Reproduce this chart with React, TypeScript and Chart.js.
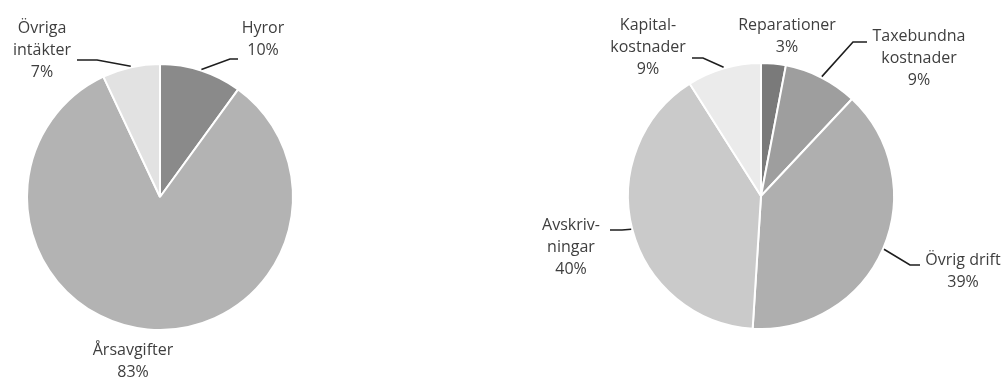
import React, { useEffect, useRef } from "react";
import { Chart, registerables } from "chart.js";

Chart.register(...registerables);

// ---- data ----
const incomeCategories = ["Hyror", "Årsavgifter", "Övriga intäkter"];
const incomeValues = [10, 83, 7];
const incomeLabelLines = [["Hyror"], ["Årsavgifter"], ["Övriga", "intäkter"]];

const costCategories = ["Reparationer", "Taxebundna kostnader", "Övrig drift", "Avskrivningar", "Kapitalkostnader"];
const costValues = [3, 9, 39, 40, 9];
const costLabelLines = [["Reparationer"], ["Taxebundna", "kostnader"], ["Övrig drift"], ["Avskriv-", "ningar"], ["Kapital-", "kostnader"]];

// ---- styles / layout (not data) ----
const incomeColors = ["#8a8a8a", "#b3b3b3", "#e2e2e2"];
const costColors = ["#7a7a7a", "#9e9e9e", "#afafaf", "#cacaca", "#ebebeb"];

type LabelLayout = { elbow?: [number, number]; end?: [number, number]; text: [number, number] };

const incomeLayout: LabelLayout[] = [
  { elbow: [70, -138], end: [78, -138], text: [103, -169] },
  { text: [-27, 153] },
  { elbow: [-63, -137], end: [-83, -137], text: [-118, -169] },
];
const costLayout: LabelLayout[] = [
  { text: [26, -171] },
  { elbow: [92, -154], end: [106, -154], text: [158, -160] },
  { elbow: [149, 69], end: [159, 69], text: [202, 64] },
  { elbow: [-139, 34], end: [-151, 34], text: [-190, 29] },
  { elbow: [-58, -138], end: [-69, -138], text: [-113, -171] },
];

const FONT = '16px "Open Sans", "Noto Sans", sans-serif';
const LINE_H = 22;

function makeLabelPlugin(lines: string[][], values: number[], layout: LabelLayout[]) {
  return {
    id: "pieLabels",
    afterDraw(chart: any) {
      const ctx = chart.ctx;
      const meta = chart.getDatasetMeta(0);
      ctx.save();
      meta.data.forEach((arc: any, i: number) => {
        const { x, y, startAngle, endAngle, outerRadius } = arc.getProps(
          ["x", "y", "startAngle", "endAngle", "outerRadius"],
          true
        );
        const lay = layout[i];
        const mid = (startAngle + endAngle) / 2;
        const r = outerRadius + 1;
        const p0x = x + Math.cos(mid) * r;
        const p0y = y + Math.sin(mid) * r;
        if (lay.elbow && lay.end) {
          ctx.beginPath();
          ctx.strokeStyle = "#1e1e1e";
          ctx.lineWidth = 1.6;
          ctx.moveTo(p0x, p0y);
          ctx.lineTo(x + lay.elbow[0], y + lay.elbow[1]);
          ctx.lineTo(x + lay.end[0], y + lay.end[1]);
          ctx.stroke();
        }
        const texts = [...lines[i], `${values[i]}%`];
        ctx.font = FONT;
        ctx.fillStyle = "#3e3e3e";
        ctx.textAlign = "center";
        ctx.textBaseline = "middle";
        texts.forEach((t, k) => {
          ctx.fillText(t, x + lay.text[0], y + lay.text[1] + k * LINE_H);
        });
      });
      ctx.restore();
    },
  };
}

function PieCanvas(props: {
  labels: string[];
  values: number[];
  colors: string[];
  lines: string[][];
  layout: LabelLayout[];
  padding: { left: number; right: number; top: number; bottom: number };
  left: number;
}) {
  const ref = useRef<HTMLCanvasElement | null>(null);
  useEffect(() => {
    if (!ref.current) return;
    const chart = new Chart(ref.current, {
      type: "pie",
      data: {
        labels: props.labels,
        datasets: [
          {
            data: props.values,
            backgroundColor: props.colors,
            borderColor: "#ffffff",
            borderWidth: 2,
          },
        ],
      },
      options: {
        responsive: false,
        animation: false,
        devicePixelRatio: 1,
        layout: { padding: props.padding },
        plugins: { legend: { display: false }, tooltip: { enabled: false } },
      },
      plugins: [makeLabelPlugin(props.lines, props.values, props.layout)],
    } as any);
    return () => chart.destroy();
  }, []);
  return (
    <canvas
      ref={ref}
      width={504}
      height={377}
      style={{ position: "absolute", left: props.left, top: 0, width: 504, height: 377 }}
    />
  );
}

export default function App() {
  useEffect(() => {
    document.body.style.margin = "0";
    document.body.style.background = "#ffffff";
  }, []);
  return (
    <div style={{ position: "relative", width: 1008, height: 377, background: "#fff", overflow: "hidden" }}>
      <PieCanvas
        labels={incomeCategories}
        values={incomeValues}
        colors={incomeColors}
        lines={incomeLabelLines}
        layout={incomeLayout}
        padding={{ left: 26, right: 210, top: 63, bottom: 46 }}
        left={0}
      />
      <PieCanvas
        labels={costCategories}
        values={costValues}
        colors={costColors}
        lines={costLabelLines}
        layout={costLayout}
        padding={{ left: 123, right: 113, top: 62, bottom: 47 }}
        left={504}
      />
    </div>
  );
}
